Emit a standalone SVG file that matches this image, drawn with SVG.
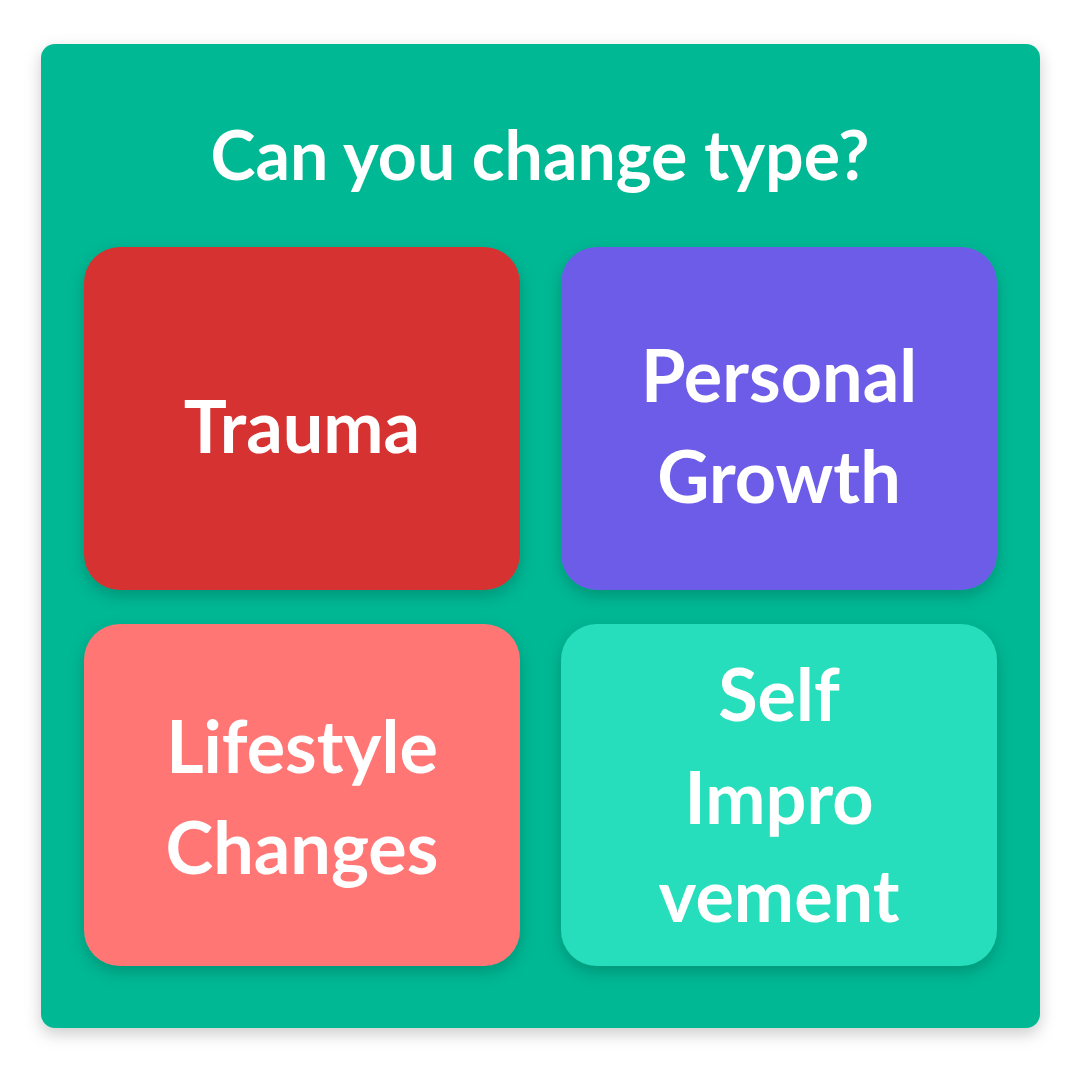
<svg xmlns="http://www.w3.org/2000/svg" width="1080" height="1080" viewBox="0 0 1080 1080">
<defs>
<filter id="sh" x="-20%" y="-20%" width="140%" height="140%"><feDropShadow dx="0" dy="6" stdDeviation="8" flood-color="#000" flood-opacity="0.2"/></filter>
<style>
.t{font-family:Lato,"Noto Sans",sans-serif;font-weight:bold;fill:#fff;text-anchor:middle}
.l{font-size:72px}
</style>
</defs>
<rect width="1080" height="1080" fill="#fff"/>
<g id="frame"><rect x="41" y="44" width="999" height="984" rx="14" fill="#00B894" filter="url(#sh)"/>
<text class="t" x="540" y="180" font-size="68">Can you change type?</text></g>
<g id="trauma"><rect x="84" y="247" width="436" height="343" rx="36" fill="#D63031" filter="url(#sh)"/>
<text class="t l" x="302" y="453">Trauma</text></g>
<g id="growth"><rect x="561" y="247" width="436" height="343" rx="36" fill="#6C5CE7" filter="url(#sh)"/>
<text class="t l" x="779" y="402">Personal</text><text class="t l" x="779" y="503">Growth</text></g>
<g id="lifestyle"><rect x="84" y="624" width="436" height="342" rx="36" fill="#FF7675" filter="url(#sh)"/>
<text class="t l" x="302" y="773">Lifestyle</text><text class="t l" x="302" y="874">Changes</text></g>
<g id="self"><rect x="561" y="624" width="436" height="342" rx="36" fill="#26DEBC" filter="url(#sh)"/>
<text class="t l" x="779" y="721">Self</text><text class="t l" x="779" y="824">Impro</text><text class="t l" x="779" y="922">vement</text></g>
<g id="connectors"/>
</svg>
